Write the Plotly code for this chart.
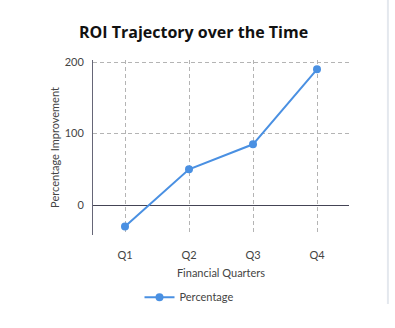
import plotly.graph_objects as go

quarters = ["Q1", "Q2", "Q3", "Q4"]
percentage = [-30, 50, 85, 190]

fig = go.Figure()
fig.add_trace(go.Scatter(
    x=quarters, y=percentage, name="Percentage",
    mode="lines+markers",
    line=dict(color="#4a90e2", width=2),
    marker=dict(color="#4a90e2", size=8),
))

fig.update_layout(
    width=395, height=328,
    margin=dict(l=93, r=46, t=60, b=93),
    paper_bgcolor="white", plot_bgcolor="white",
    title=dict(text="<b>ROI Trajectory over the Time</b>", x=0.49, xanchor="center",
               y=0.9, yanchor="middle",
               font=dict(family="Open Sans", size=16, color="#111111")),
    font=dict(family="Lato", size=11, color="#444444"),
    showlegend=True,
    legend=dict(orientation="h", x=0.375, xanchor="center", y=-0.355, yanchor="middle",
                itemwidth=30,
                font=dict(family="Lato", size=11, color="#444444")),
    xaxis=dict(
        range=[-0.5, 3.5], showgrid=True, gridcolor="#b4b4b4", griddash="4px,3px",
        gridwidth=1, showline=False, ticks="outside", ticklen=10, tickcolor="rgba(0,0,0,0)",
        zeroline=False,
        title=dict(text="Financial Quarters", font=dict(size=11, color="#444444"), standoff=9),
        tickfont=dict(size=11, color="#444444"),
    ),
    yaxis=dict(
        range=[-42, 203], tickvals=[0, 100, 200], showgrid=True, gridcolor="#b4b4b4",
        griddash="4px,3px", gridwidth=1, showline=True, linecolor="#666677", linewidth=1,
        zeroline=True, zerolinecolor="#444455", zerolinewidth=1,
        ticks="outside", ticklen=6, tickcolor="rgba(0,0,0,0)",
        title=dict(text="Percentage Improvement", font=dict(size=11, color="#444444"), standoff=2),
        tickfont=dict(size=11, color="#444444"),
    ),
)

# thin card edge on the right
fig.add_shape(type="line", xref="paper", yref="paper",
              x0=1.152, x1=1.152, y0=-0.394, y1=1.35,
              line=dict(color="#e4e8ee", width=2), layer="below")

fig.write_html("out.html")
